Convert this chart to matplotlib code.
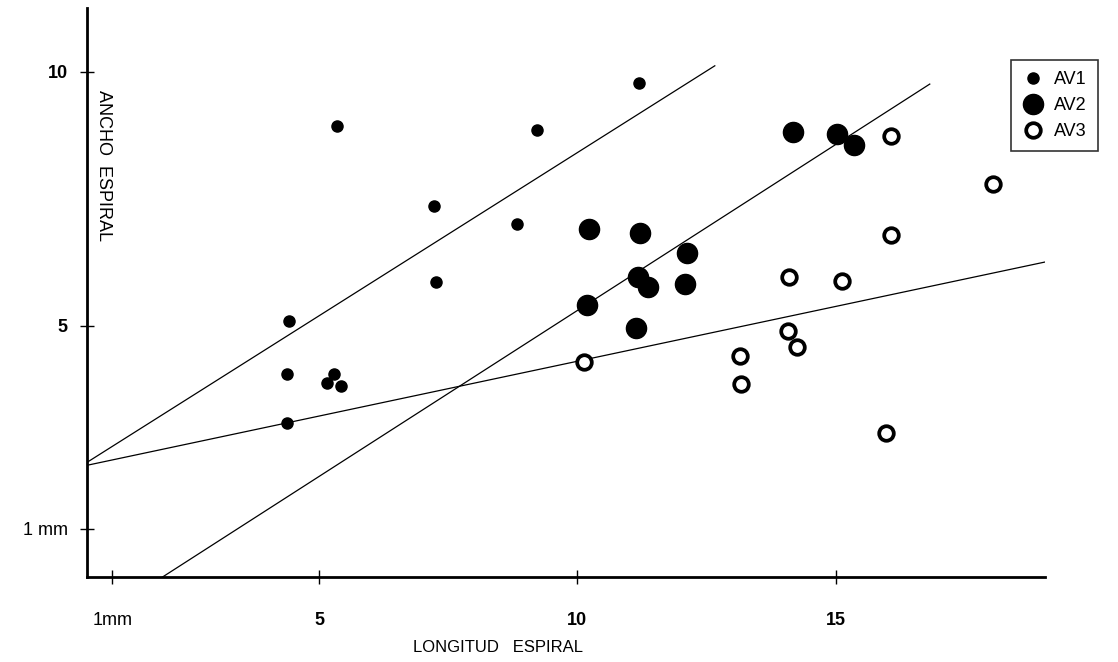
import numpy as np
import matplotlib
matplotlib.use('Agg')
import matplotlib.pyplot as plt

plt.rcParams['font.family'] = ['Liberation Sans', 'DejaVu Sans']

# Longitud / ancho de espiral por grupo
av1_x = [4.42, 5.35, 9.21, 11.19, 7.22, 8.83, 7.26, 4.38, 5.29, 5.15, 5.42, 4.38]
av1_y = [5.09, 8.93, 8.86, 9.78, 7.36, 7.00, 5.86, 4.04, 4.04, 3.87, 3.81, 3.08]

av2_x = [10.22, 11.21, 12.12, 10.18, 11.17, 11.36, 12.08, 11.13, 14.17, 15.02, 15.35]
av2_y = [6.90, 6.82, 6.43, 5.40, 5.96, 5.76, 5.82, 4.95, 8.82, 8.78, 8.56]

av3_x = [16.07, 18.04, 16.07, 14.09, 15.13, 14.07, 13.14, 14.26, 13.16, 10.12, 15.97]
av3_y = [8.74, 7.79, 6.79, 5.96, 5.88, 4.89, 4.40, 4.58, 3.85, 4.28, 2.88]

# Rectas de regresion: ordenada, pendiente y tramo dibujado
fit_intercept = [1.98, -1.24, 2.14]
fit_slope = [0.643, 0.654, 0.216]
fit_xmin = [0.51, 1.92, 0.51]
fit_xmax = [12.66, 16.82, 19.18]

x_ticks = [1, 5, 10, 15]
x_tick_labels = ['1mm', '5', '10', '15']
y_ticks = [1, 5, 10]
y_tick_labels = ['1 mm', '5', '10']

fig = plt.figure(figsize=(11.18, 6.62), dpi=100)
ax = fig.add_axes([0.0778, 0.1284, 0.8569, 0.8596])

for b, m, x0, x1 in zip(fit_intercept, fit_slope, fit_xmin, fit_xmax):
    xs = np.array([x0, x1])
    ax.plot(xs, b + m * xs, color='black', lw=0.9, zorder=2)

ax.plot(av1_x, av1_y, 'o', color='black', ms=8, mec='black', zorder=3, label='AV1')
ax.plot(av2_x, av2_y, 'o', color='black', ms=14.5, mec='black', zorder=3, label='AV2')
ax.plot(av3_x, av3_y, 'o', mfc='white', mec='black', ms=10.5, mew=2.7, zorder=3, label='AV3')

ax.set_xlim(0.51, 19.05)
ax.set_ylim(0.05, 11.26)

for side in ['top', 'right']:
    ax.spines[side].set_visible(False)
ax.spines['left'].set_linewidth(2)
ax.spines['bottom'].set_linewidth(2)

ax.set_xticks(x_ticks)
ax.set_xticklabels(x_tick_labels)
ax.set_yticks(y_ticks)
ax.set_yticklabels(y_tick_labels)
ax.tick_params(axis='both', direction='inout', length=10, width=1, labelsize=13)
ax.tick_params(axis='x', pad=20)
ax.tick_params(axis='y', pad=9)
for lab in ax.get_xticklabels()[1:] + ax.get_yticklabels()[1:]:
    lab.set_fontweight('bold')

fig.text(0.445, 0.01, 'LONGITUD   ESPIRAL', fontsize=12, ha='center', va='bottom')
fig.text(0.093, 0.75, 'ANCHO  ESPIRAL', fontsize=13, rotation=-90,
         ha='center', va='center')

leg = ax.legend(loc='upper left', bbox_to_anchor=(1011 / 1118, 1 - 60 / 662),
                bbox_transform=fig.transFigure, frameon=True, fontsize=13,
                handletextpad=0.6, borderpad=0.6, labelspacing=0.5,
                handlelength=1.2, borderaxespad=0, fancybox=False)
leg.get_frame().set_edgecolor('black')
leg.get_frame().set_linewidth(1.2)

fig.savefig('out.png', dpi=100)
